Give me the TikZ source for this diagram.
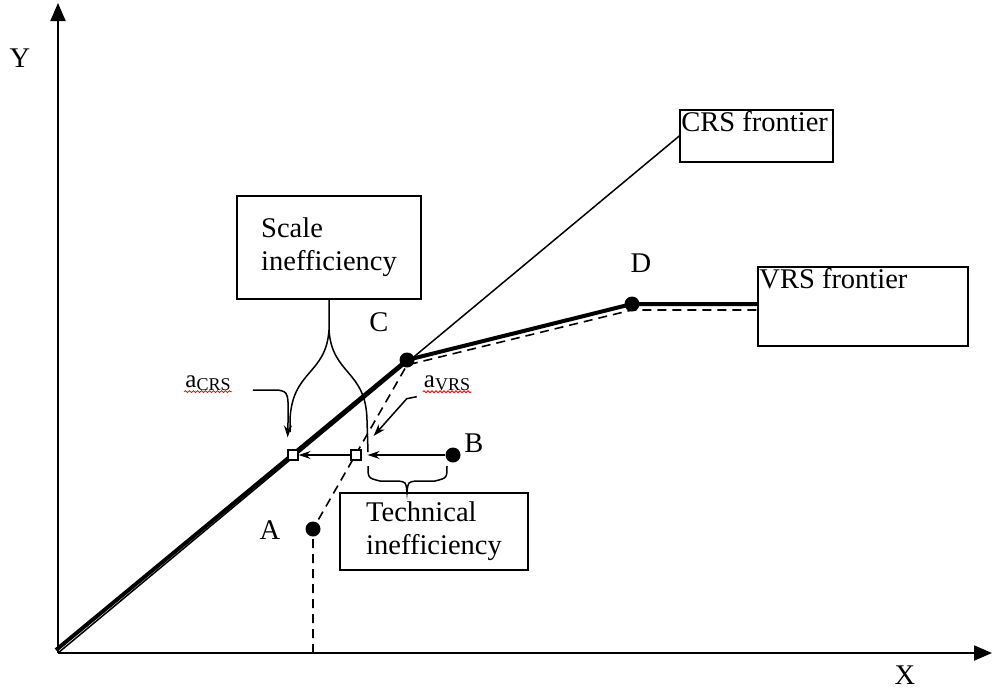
\documentclass[tikz,border=0pt]{standalone}
\usepackage{fontspec}
\setmainfont{Liberation Serif}
\usetikzlibrary{positioning,arrows.meta,decorations.pathmorphing}

\begin{document}
\begin{tikzpicture}[x=1pt,y=-1pt,font=\fontsize{28.5}{33}\selectfont]
            \tikzstyle{box}=[draw,line width=1.5pt,inner sep=0pt]
            \tikzstyle{dot}=[circle,fill,inner sep=0pt,minimum size=15pt]
            \tikzstyle{sq}=[draw,fill=white,line width=1.3pt,inner sep=0pt,minimum size=10pt]
            \tikzstyle{ptr}=[-{Stealth[length=12pt,width=8pt]},line width=1.5pt]
            \tikzstyle{axis}=[-{Triangle[length=18pt,width=15pt]},line width=2pt]
            \tikzstyle{sub}=[inner sep=1pt,font=\fontsize{25}{27}\selectfont]
            \tikzstyle{spell}=[red,line width=0.8pt,decorate,decoration={snake,segment length=4pt,amplitude=1pt}]
            \useasboundingbox (0,0) rectangle (994,689);

            % axes
            \coordinate (O) at (58,653);
            \coordinate (ytop) at (58,3);
            \coordinate (xend) at (992,653);
            \draw[axis] (O) -- (ytop);
            \draw[axis] (O) -- (xend);
            \node (ylab) at (20,58) {Y};
            \node (xlab) at (905,675) {X};

            % boxes
            \node[box,minimum width=153pt,minimum height=52pt,
                  label={[anchor=north west,inner sep=2pt]north west:CRS frontier}] (crs) at (756.5,136) {};
            \node[box,minimum width=210pt,minimum height=79pt,
                  label={[anchor=north west,inner sep=2pt]north west:VRS frontier}] (vrs) at (863,306.5) {};
            \node[box,minimum width=184pt,minimum height=103pt,align=left] (scale) at (329,247.5) {Scale\\inefficiency};
            \node[box,minimum width=188pt,minimum height=77pt,align=left] (tech) at (434,531.5) {Technical\\inefficiency};

            % points
            \node[dot] (A) at (313,529) {};
            \node[dot] (B) at (453,455) {};
            \node[dot] (C) at (407,360) {};
            \node[dot] (D) at (632,304) {};
            \node (alab) at (270,530) {A};
            \node (blab) at (474,443) {B};
            \node (clab) at (379,322) {C};
            \node (dlab) at (641,263) {D};

            % frontiers
            \draw[line width=1.5pt] (O) -- (crs.west);
            \draw[line width=4pt,line join=round] ([shift={(-2,-3)}]O) -- (C.center) -- (D.center) -- (D -| vrs.west);
            \draw[dashed,line width=1.6pt,dash pattern=on 9pt off 6pt] (A |- O) -- (A.center) -- ([yshift=-5pt]C.center)
                -- ([yshift=-6pt]D.center) -- ([yshift=-6pt]D -| vrs.west);

            % projections
            \node[sq] (acrs) at (293,455) {};
            \node[sq] (avrs) at (356,455) {};
            \draw[ptr,shorten >=6pt] (B) -- (avrs.east);
            \draw[ptr] (avrs.west) -- (acrs.east);

            \node[sub] (lacrs) at (208,383) {a\raisebox{-3pt}{\fontsize{18}{18}\selectfont CRS}};
            \node[sub] (lavrs) at (447,383) {a\raisebox{-3pt}{\fontsize{18}{18}\selectfont VRS}};
            \draw[spell] (lacrs.south west) -- (lacrs.south east);
            \draw[spell] (lavrs.south west) -- (lavrs.south east);
            \draw[ptr,shorten >=12pt] ([shift={(21,7)}]lacrs.east) -- ++(25,0) .. controls +(11,2) .. (acrs.north west);
            \draw[ptr,shorten >=18pt] ([shift={(-6,5)}]lavrs.south west) -- ++(-10,2) -- (avrs.north east);

            % braces
            \draw[line width=1.5pt] (scale.south) -- (329,330)
                .. controls (332,375) and (366,370) .. (367,420) -- (368,452);
            \draw[line width=1.5pt] (329,330)
                .. controls (326,375) and (292,370) .. (290,420) -- (290,432);
            \draw[line width=1.5pt] (368,466) .. controls (368,478) .. (380,481) -- (398,481)
                .. controls (406,482) .. (tech.north -| 407,0)
                .. controls (408,482) .. (416,481) -- (435,481)
                .. controls (447,478) .. (447,466);
\end{tikzpicture}
\end{document}
